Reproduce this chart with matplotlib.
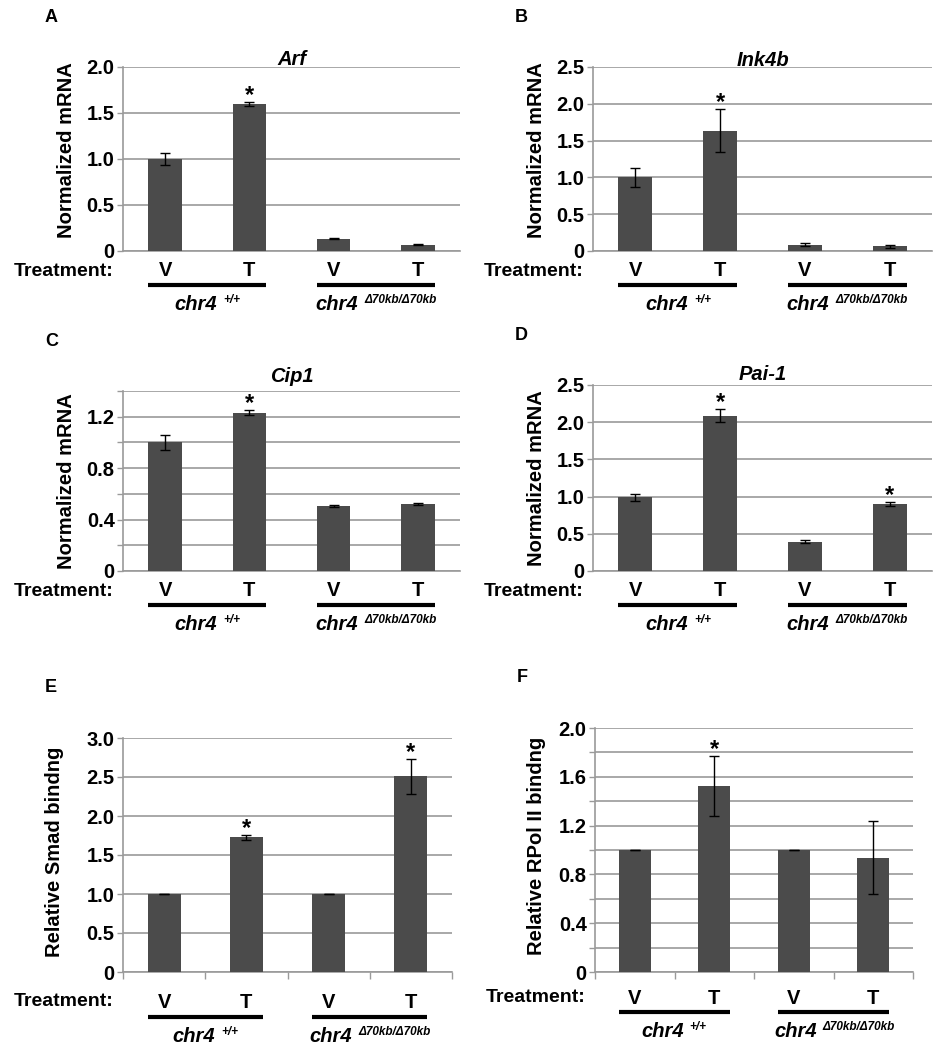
import matplotlib
matplotlib.use("Agg")
import matplotlib.pyplot as plt
from matplotlib.transforms import offset_copy
import numpy as np

plt.rcParams['font.family'] = ['Liberation Sans', 'DejaVu Sans']

W, H = 933, 1050

# data
treatments = ['V', 'T', 'V', 'T']
genotypes = ['chr4', 'chr4']
genotype_sup = ['+/+', '\u039470kb/\u039470kb']

arf_mean = [1.00, 1.60, 0.134, 0.069]
arf_err = [0.06, 0.02, 0.004, 0.003]
arf_star = [False, True, False, False]

ink4b_mean = [1.00, 1.635, 0.087, 0.064]
ink4b_err = [0.127, 0.295, 0.02, 0.02]
ink4b_star = [False, True, False, False]

cip1_mean = [1.00, 1.23, 0.507, 0.523]
cip1_err = [0.055, 0.02, 0.01, 0.006]
cip1_star = [False, True, False, False]

pai1_mean = [0.99, 2.09, 0.395, 0.903]
pai1_err = [0.05, 0.087, 0.015, 0.025]
pai1_star = [False, True, False, True]

smad_mean = [1.00, 1.726, 1.00, 2.508]
smad_err = [0.004, 0.035, 0.004, 0.22]
smad_star = [False, True, False, True]

rpol_mean = [1.00, 1.526, 1.00, 0.937]
rpol_err = [0.004, 0.244, 0.004, 0.30]
rpol_star = [False, True, False, False]

BAR = '#4b4b4b'
GRID = '#9a9a9a'


def fmt(v):
    return '0' if v == 0 else '%.1f' % v


def panel(rect, letter, title, ylabel, mean, err, star, ymax, ystep, ylab_step,
          xticks=False, below=(19, 34, 52), ylab_x=67, ylab_y=None, title_dy=2):
    l, t, r, b = rect
    ax = fig.add_axes([l / W, 1 - b / H, (r - l) / W, (b - t) / H])
    x = np.arange(len(mean))
    ax.bar(x, mean, width=0.4, color=BAR, zorder=3)
    ax.errorbar(x, mean, yerr=err, fmt='none', ecolor='black', elinewidth=1,
                capsize=3.5, capthick=1, zorder=4)
    for xi, m, e, s in zip(x, mean, err, star):
        if s:
            ax.annotate('*', (xi, m + e), xytext=(0, 0), textcoords='offset points',
                        ha='center', va='baseline', fontsize=17, fontweight='bold')
    ax.set_xlim(-0.5, 3.5)
    ax.set_ylim(0, ymax)
    ticks = np.round(np.arange(0, ymax + 1e-9, ystep), 2)
    ax.set_yticks(ticks)
    labels = []
    for v in ticks:
        k = v / ylab_step
        labels.append(fmt(v) if abs(k - round(k)) < 1e-6 else '')
    ax.set_yticklabels(labels, fontsize=14.5, fontweight='bold')
    ax.yaxis.grid(True, color=GRID, lw=1.2, zorder=0)
    ax.tick_params(axis='y', direction='out', length=4, width=1, color=GRID, pad=2)
    if xticks:
        ax.set_xticks([-0.5, 0.5, 1.5, 2.5, 3.5])
        ax.set_xticklabels([])
        ax.tick_params(axis='x', direction='out', length=5, width=1, color=GRID)
    else:
        ax.set_xticks([])
    for sp in ['top', 'right']:
        ax.spines[sp].set_visible(False)
    for sp in ['left', 'bottom']:
        ax.spines[sp].set_color(GRID)
        ax.spines[sp].set_linewidth(1.2)
    if title:
        ax.text(0.5, 1, title, transform=offset_copy(ax.transAxes, fig=fig, y=title_dy, units='dots'),
                ha='center', va='baseline', fontsize=14.5, fontweight='bold', style='italic')
    if ylab_y is None:
        ylab_y = (t + b) / 2
    fig.text(ylab_x / W, 1 - ylab_y / H, ylabel, rotation=90, ha='center', va='center',
             fontsize=14.5, fontweight='bold')
    fig.text((l - 78) / W, 1 - (t - 50) / H, letter, ha='left', va='center',
             fontsize=13, fontweight='bold')

    # treatment row, genotype bars and labels
    d_tr, d_ul, d_gt = below
    tr = offset_copy(ax.get_xaxis_transform(), fig=fig, y=-d_tr, units='dots')
    fig.text((l - 10) / W, 1 - (b + d_tr) / H, 'Treatment:', ha='right', va='center',
             fontsize=14, fontweight='bold')
    for xi, lab in zip(x, treatments):
        ax.text(xi, 0, lab, transform=tr, ha='center', va='center', fontsize=14.5,
                fontweight='bold', clip_on=False)
    ul = offset_copy(ax.get_xaxis_transform(), fig=fig, y=-d_ul, units='dots')
    gt = offset_copy(ax.get_xaxis_transform(), fig=fig, y=-d_gt - 7, units='dots')
    gs = offset_copy(ax.get_xaxis_transform(), fig=fig, y=-d_gt, units='dots')
    for g, (name, sup, off) in enumerate(zip(genotypes, genotype_sup, [0.12, -0.21])):
        xc = 0.5 + 2 * g
        ax.plot([xc - 0.7, xc + 0.7], [0, 0], transform=ul, color='black', lw=3,
                clip_on=False, solid_capstyle='butt')
        ax.text(xc + off, 0, name, transform=gt, ha='right', va='baseline', fontsize=14.5,
                fontweight='bold', style='italic', clip_on=False)
        ax.text(xc + off + 0.07, 0, sup, transform=gs, ha='left', va='baseline', fontsize=8.5,
                fontweight='bold', style='italic', clip_on=False)
    return ax


fig = plt.figure(figsize=(W / 100, H / 100), dpi=100)

panel((123, 67, 460, 251), 'A', 'Arf', 'Normalized mRNA', arf_mean, arf_err, arf_star,
      2.0, 0.5, 0.5, below=(20, 34, 52), ylab_y=150)
panel((593, 67, 932, 251), 'B', 'Ink4b', 'Normalized mRNA', ink4b_mean, ink4b_err, ink4b_star,
      2.5, 0.5, 0.5, below=(20, 34, 52), ylab_x=537, ylab_y=150, title_dy=1)
panel((123, 391, 460, 571), 'C', 'Cip1', 'Normalized mRNA', cip1_mean, cip1_err, cip1_star,
      1.4, 0.2, 0.4, below=(20, 34, 52), title_dy=9)
panel((593, 385, 932, 571), 'D', 'Pai-1', 'Normalized mRNA', pai1_mean, pai1_err, pai1_star,
      2.5, 0.5, 0.5, below=(20, 34, 52), ylab_x=537, title_dy=5)
panel((123, 738, 452, 972), 'E', None, 'Relative Smad bindng', smad_mean, smad_err, smad_star,
      3.0, 0.5, 0.5, xticks=True, below=(30, 45, 63), ylab_x=55, ylab_y=852)
panel((595, 728, 913, 972), 'F', None, 'Relative RPol II bindng', rpol_mean, rpol_err, rpol_star,
      2.0, 0.2, 0.4, xticks=True, below=(26, 40, 58), ylab_x=537, ylab_y=846)

fig.savefig('out.png', dpi=100, facecolor='white')
